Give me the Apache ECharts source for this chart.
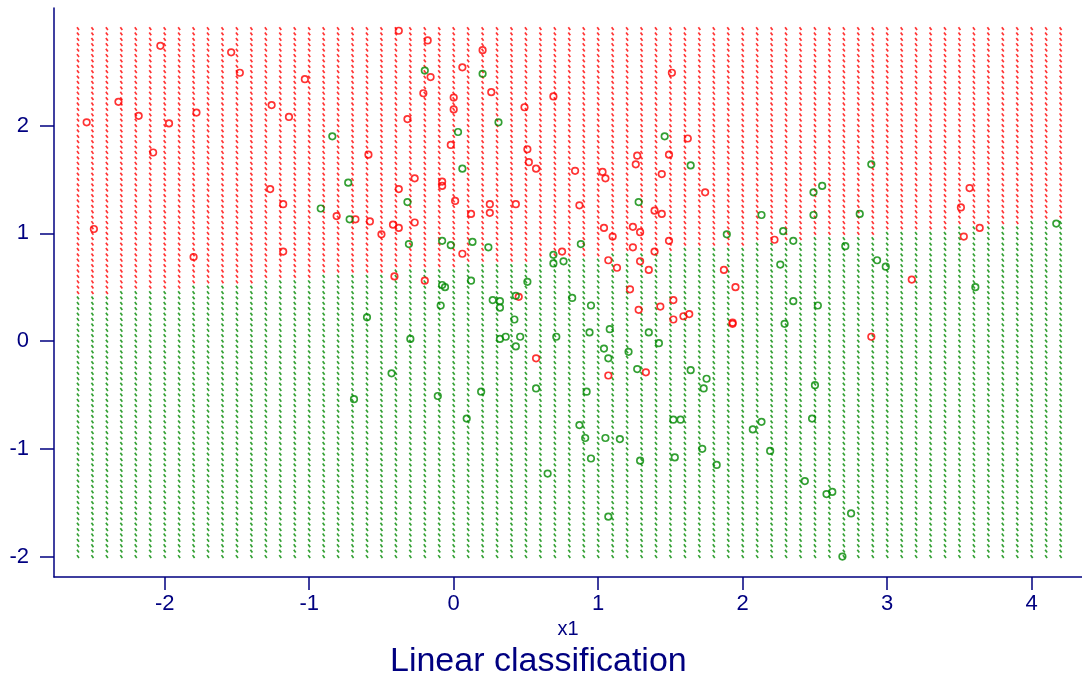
<!DOCTYPE html>
<html>
<head>
<meta charset="utf-8">
<script src="https://cdn.jsdelivr.net/npm/echarts@6/dist/echarts.min.js"></script>
<style>html,body{margin:0;padding:0;background:#fff}#chart{width:1082px;height:678px}</style>
</head>
<body>
<div id="chart"></div>
<script>
// ---- data ----
const xTicks = [-2, -1, 0, 1, 2, 3, 4];
const yTicks = [-2, -1, 0, 1, 2];

// prediction grid (x1 by 0.1, x2 by 0.05)
const gridXs = [-2.6,-2.5,-2.4,-2.3,-2.2,-2.1,-2.0,-1.9,-1.8,-1.7,-1.6,-1.5,-1.4,-1.3,-1.2,-1.1,-1.0,-0.9,-0.8,-0.7,-0.6,-0.5,-0.4,-0.3,-0.2,-0.1,0.0,0.1,0.2,0.3,0.4,0.5,0.6,0.7,0.8,0.9,1.0,1.1,1.2,1.3,1.4,1.5,1.6,1.7,1.8,1.9,2.0,2.1,2.2,2.3,2.4,2.5,2.6,2.7,2.8,2.9,3.0,3.1,3.2,3.3,3.4,3.5,3.6,3.7,3.8,3.9,4.0,4.1,4.2];
const gridYs = [-2.0,-1.95,-1.9,-1.85,-1.8,-1.75,-1.7,-1.65,-1.6,-1.55,-1.5,-1.45,-1.4,-1.35,-1.3,-1.25,-1.2,-1.15,-1.1,-1.05,-1.0,-0.95,-0.9,-0.85,-0.8,-0.75,-0.7,-0.65,-0.6,-0.55,-0.5,-0.45,-0.4,-0.35,-0.3,-0.25,-0.2,-0.15,-0.1,-0.05,0.0,0.05,0.1,0.15,0.2,0.25,0.3,0.35,0.4,0.45,0.5,0.55,0.6,0.65,0.7,0.75,0.8,0.85,0.9,0.95,1.0,1.05,1.1,1.15,1.2,1.25,1.3,1.35,1.4,1.45,1.5,1.55,1.6,1.65,1.7,1.75,1.8,1.85,1.9,1.95,2.0,2.05,2.1,2.15,2.2,2.25,2.3,2.35,2.4,2.45,2.5,2.55,2.6,2.65,2.7,2.75,2.8,2.85,2.9];

// linear decision boundary (red class where x2 > intercept + slope*x1)
const boundaryIntercept = 0.693;
const boundarySlope = 0.103;

const redPoints = [
[-0.38,2.88],[-0.18,2.79],[-2.03,2.74],[-1.54,2.68],[0.20,2.70],[-1.48,2.49],[-1.03,2.43],[-0.16,2.45],[0.06,2.54],[-0.21,2.30],
[0.00,2.26],[0.26,2.31],[0.69,2.27],[-2.32,2.22],[-1.26,2.19],[0.00,2.15],[0.49,2.17],[-2.18,2.09],[-1.78,2.12],[-2.54,2.03],
[-1.97,2.02],[-1.14,2.08],[-0.32,2.06],[-0.02,1.82],[0.51,1.78],[0.52,1.66],[0.57,1.60],[0.84,1.58],[-0.59,1.73],[-2.08,1.75],
[-0.27,1.51],[-0.08,1.48],[-0.08,1.44],[-1.27,1.41],[-0.38,1.41],[0.01,1.30],[-1.18,1.27],[0.25,1.27],[0.43,1.27],[0.87,1.26],
[0.12,1.18],[0.25,1.19],[-0.81,1.16],[-0.68,1.13],[-0.58,1.11],[-0.42,1.08],[-0.38,1.05],[-0.27,1.10],[-0.50,0.99],[-2.49,1.04],
[-1.80,0.78],[-1.18,0.83],[0.06,0.81],[0.75,0.83],[-0.41,0.60],[-0.20,0.56],[0.45,0.41],[0.57,-0.16],
[1.51,2.49],[1.62,1.88],[1.27,1.72],[1.26,1.64],[1.49,1.73],[1.03,1.57],[1.05,1.51],[1.44,1.55],[1.74,1.38],[1.39,1.21],
[1.44,1.18],[1.04,1.05],[1.24,1.06],[1.10,0.97],[1.29,1.01],[1.24,0.87],[1.49,0.93],[1.39,0.83],[1.07,0.75],[1.29,0.74],
[1.13,0.68],[1.35,0.66],[1.87,0.66],[1.22,0.48],[1.95,0.50],[2.22,0.94],[3.57,1.42],[3.51,1.24],[3.64,1.05],[3.53,0.97],
[3.17,0.57],[1.28,0.29],[1.43,0.32],[1.52,0.38],[1.52,0.20],[1.59,0.23],[1.63,0.25],[1.93,0.17],[1.93,0.16],[2.89,0.04],
[1.07,-0.32],[1.33,-0.29]
];

const greenPoints = [
[-0.20,2.51],[0.20,2.48],[0.31,2.03],[0.03,1.94],[-0.84,1.90],[0.06,1.60],[-0.73,1.47],[-0.92,1.23],[-0.32,1.29],[-0.72,1.13],
[-0.31,0.90],[-0.08,0.93],[-0.02,0.89],[0.13,0.92],[0.24,0.87],[0.69,0.80],[0.69,0.72],[0.76,0.74],[0.88,0.90],[-0.08,0.52],
[-0.06,0.50],[0.12,0.56],[0.51,0.55],[0.43,0.42],[0.27,0.38],[0.32,0.37],[0.32,0.31],[-0.09,0.33],[0.82,0.40],[-0.60,0.22],
[0.42,0.20],[-0.30,0.02],[0.32,0.02],[0.36,0.04],[0.46,0.04],[0.71,0.04],[0.43,-0.05],[-0.43,-0.30],[0.57,-0.44],[0.19,-0.47],
[-0.69,-0.54],[-0.11,-0.51],[0.09,-0.72],[0.87,-0.78],[0.65,-1.23],
[1.46,1.90],[1.64,1.63],[1.28,1.29],[2.89,1.64],[2.55,1.44],[2.49,1.38],[2.49,1.17],[2.13,1.17],[2.81,1.18],[4.17,1.09],
[1.89,0.99],[2.28,1.02],[2.35,0.93],[2.71,0.88],[2.26,0.71],[2.93,0.75],[2.99,0.69],[3.61,0.50],
[0.95,0.33],[2.35,0.37],[2.52,0.33],[0.94,0.08],[1.08,0.11],[1.35,0.08],[2.29,0.16],[1.42,-0.02],[1.04,-0.07],[1.21,-0.10],
[1.07,-0.16],[1.27,-0.26],[1.64,-0.27],[1.75,-0.35],[1.73,-0.44],[2.50,-0.41],[0.92,-0.47],[1.52,-0.73],[1.57,-0.73],[2.48,-0.72],
[2.13,-0.75],[2.07,-0.82],[0.91,-0.90],[1.05,-0.90],[1.15,-0.91],[0.95,-1.09],[1.29,-1.11],[1.53,-1.08],[1.72,-1.00],[2.19,-1.02],
[1.82,-1.15],[2.43,-1.30],[2.58,-1.42],[2.62,-1.40],[2.75,-1.60],[1.07,-1.63],[2.69,-2.00]
];

// ---- build grid classes ----
const gridRed = [], gridGreen = [];
for (const gx of gridXs) {
  for (const gy of gridYs) {
    if (gy > boundaryIntercept + boundarySlope * gx) gridRed.push([gx, gy]);
    else gridGreen.push([gx, gy]);
  }
}

const RED = '#ff0000';
const GREEN = '#008800';
const NAVY = '#000080';
const FONT = '"Liberation Sans", Arial, sans-serif';

const chart = echarts.init(document.getElementById('chart'), null, {renderer: 'canvas'});

const gridDot = {
  type: 'scatter',
  symbol: 'rect',
  symbolSize: [1.7, 3.4],
  symbolRotate: 35,
  silent: true,
  progressive: 0,
  large: false,
  z: 1
};
const ring = (color) => ({
  type: 'scatter',
  symbol: 'circle',
  symbolSize: 6.5,
  itemStyle: {color: 'rgba(0,0,0,0)', borderColor: color, borderWidth: 1.7},
  z: 3
});

chart.setOption({
  animation: false,
  backgroundColor: '#ffffff',
  title: {
    text: 'Linear classification',
    left: 385,
    top: 640,
    textStyle: {color: NAVY, fontSize: 34, fontWeight: 'normal', fontFamily: FONT}
  },
  grid: {left: 54, right: 0, top: 8, bottom: 101, containLabel: false},
  xAxis: {
    type: 'value',
    min: -2.766,
    max: 4.348,
    name: 'x1',
    nameLocation: 'middle',
    nameGap: 42,
    nameTextStyle: {color: NAVY, fontSize: 20, fontFamily: FONT},
    splitLine: {show: false},
    axisLine: {show: true, onZero: false, lineStyle: {color: NAVY, width: 1.5}},
    axisTick: {show: true, length: 13, customValues: xTicks, lineStyle: {color: NAVY, width: 1.5}},
    axisLabel: {customValues: xTicks, margin: 16, color: NAVY, fontSize: 22, fontFamily: FONT}
  },
  yAxis: {
    type: 'value',
    min: -2.19,
    max: 3.091,
    splitLine: {show: false},
    axisLine: {show: true, onZero: false, lineStyle: {color: NAVY, width: 1.5}},
    axisTick: {show: true, length: 14, customValues: yTicks, lineStyle: {color: NAVY, width: 1.5}},
    axisLabel: {customValues: yTicks, margin: 25, color: NAVY, fontSize: 22, fontFamily: FONT}
  },
  series: [
    Object.assign({}, gridDot, {name: 'gridRed', data: gridRed, itemStyle: {color: RED}}),
    Object.assign({}, gridDot, {name: 'gridGreen', data: gridGreen, itemStyle: {color: GREEN}}),
    Object.assign({}, ring(RED), {name: 'red', data: redPoints}),
    Object.assign({}, ring(GREEN), {name: 'green', data: greenPoints})
  ]
});
</script>
</body>
</html>
